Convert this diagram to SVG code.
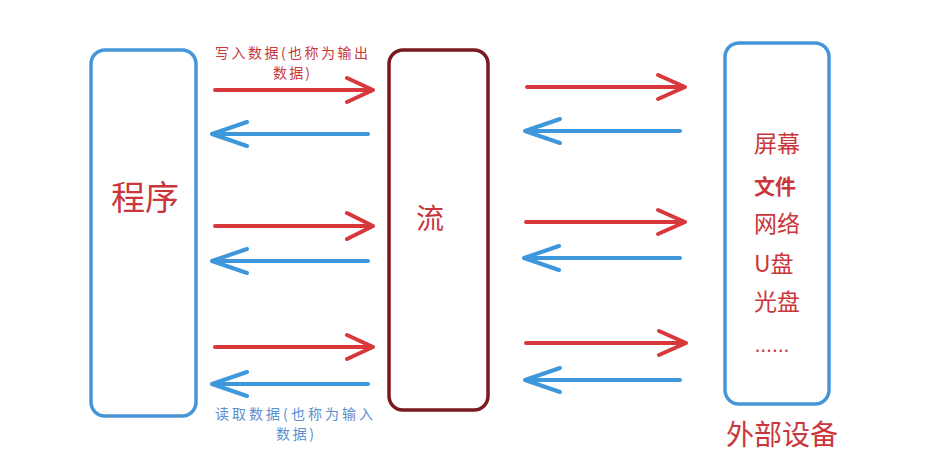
<svg xmlns="http://www.w3.org/2000/svg" width="936" height="468" viewBox="0 0 936 468">
<defs>
<style>
.box{fill:#fff;stroke-width:3.5}
.blue{stroke:#4596d8}
.dark{stroke:#7a1a20}
.t{font-family:"Noto Sans CJK SC","Noto Sans",sans-serif}
.red{fill:#c9373c}
.lblue{fill:#5a8fd0}
.ar{fill:none;stroke-width:4;stroke-linecap:round;stroke-linejoin:round}
.ar-r{stroke:#d8373b}
.ar-b{stroke:#3e97db}
</style>
</defs>
<rect width="936" height="468" fill="#fff"/>
<g id="program">
<rect class="box blue" x="91" y="50" width="105" height="366" rx="14"/>
<text class="t red" x="111" y="210" font-size="34">程序</text>
</g>
<g id="stream">
<rect class="box dark" x="389" y="50" width="99" height="360" rx="14"/>
<text class="t red" x="416" y="229" font-size="28">流</text>
</g>
<g id="devices">
<rect class="box blue" x="725" y="43" width="104" height="361" rx="14"/>
<text class="t red" x="754" y="152" font-size="23">屏幕</text>
<text class="t red" x="754" y="194" font-size="21" font-weight="bold">文件</text>
<text class="t red" x="754" y="232" font-size="23">网络</text>
<text class="t red" x="754" y="272" font-size="23">U盘</text>
<text class="t red" x="754" y="310" font-size="23">光盘</text>
<text class="t red" x="755" y="352" font-size="18" textLength="34">......</text>
<text class="t red" x="726" y="445" font-size="28">外部设备</text>
</g>
<g id="labels">
<text class="t red" x="215" y="58" font-size="14" textLength="153">写入数据(也称为输出</text>
<text class="t red" x="273" y="78" font-size="14" textLength="37">数据)</text>
<text class="t lblue" x="215" y="419" font-size="14" textLength="158">读取数据(也称为输入</text>
<text class="t lblue" x="276" y="439" font-size="14" textLength="38">数据)</text>
</g>
<g id="connectors">
<path class="ar ar-r" d="M215 90H373M347 78L373 90L347 102"/>
<path class="ar ar-b" d="M368 134H212M247 122L212 134L247 146"/>
<path class="ar ar-r" d="M215 226H373M347 213L373 226L347 239"/>
<path class="ar ar-b" d="M368 261H212M247 249L212 261L247 273"/>
<path class="ar ar-r" d="M215 347H373M347 335L373 347L347 359"/>
<path class="ar ar-b" d="M368 384H212M247 372L212 384L247 396"/>
<path class="ar ar-r" d="M527 87H685M658 75L685 87L658 99"/>
<path class="ar ar-b" d="M680 131H525M560 119L525 131L560 143"/>
<path class="ar ar-r" d="M526 222H685M658 210L685 222L658 234"/>
<path class="ar ar-b" d="M680 258H524M559 246L524 258L559 270"/>
<path class="ar ar-r" d="M526 343H686M659 331L686 343L659 355"/>
<path class="ar ar-b" d="M680 380H525M560 368L525 380L560 392"/>
</g>
</svg>
